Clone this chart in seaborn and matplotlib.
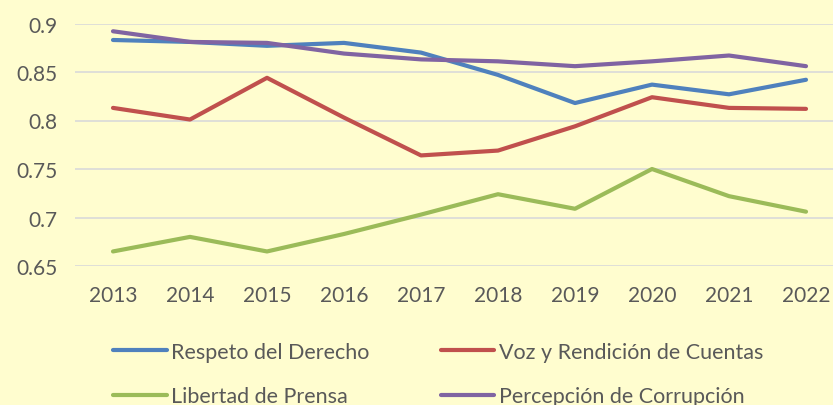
import matplotlib
matplotlib.use("Agg")
import matplotlib.pyplot as plt
import seaborn as sns
import pandas as pd
from matplotlib.lines import Line2D

years = ["2013", "2014", "2015", "2016", "2017", "2018", "2019", "2020", "2021", "2022"]
respeto = [0.883, 0.881, 0.877, 0.880, 0.870, 0.847, 0.818, 0.837, 0.827, 0.842]
voz = [0.813, 0.801, 0.844, 0.803, 0.764, 0.769, 0.794, 0.824, 0.813, 0.812]
libertad = [0.665, 0.680, 0.665, 0.683, 0.703, 0.724, 0.709, 0.750, 0.722, 0.706]
percepcion = [0.892, 0.881, 0.880, 0.869, 0.863, 0.861, 0.856, 0.861, 0.867, 0.856]
series_names = ["Respeto del Derecho", "Voz y Rendición de Cuentas",
                "Libertad de Prensa", "Percepción de Corrupción"]
yticks = [0.65, 0.7, 0.75, 0.8, 0.85, 0.9]
ytick_labels = ["0.65", "0.7", "0.75", "0.8", "0.85", "0.9"]

colors = ["#4F81BD", "#C0504D", "#9BBB59", "#8064A2"]
bg = "#FFFDCF"
txt = "#595959"

rows = []
for name, vals in zip(series_names, [respeto, voz, libertad, percepcion]):
    for i, (y, v) in enumerate(zip(years, vals)):
        rows.append({"pos": i, "year": y, "value": v, "series": name})
df = pd.DataFrame(rows)

sns.set_theme(style="white")
plt.rcParams["font.family"] = ["Lato", "DejaVu Sans"]

fig = plt.figure(figsize=(8.33, 4.06), dpi=100, facecolor=bg)
ax = fig.add_axes([74.5 / 833, (406 - 267) / 406, 770 / 833, (267 - 24.5) / 406])
ax.set_facecolor(bg)

sns.lineplot(data=df, x="pos", y="value", hue="series", palette=colors,
             hue_order=series_names, linewidth=3, ax=ax, legend=False,
             solid_capstyle="round")

ax.set_xlim(-0.5, 9.5)
ax.set_ylim(0.65, 0.9)
ax.set_xticks(range(len(years)))
ax.set_xticklabels(years)
ax.set_yticks(yticks)
ax.set_yticklabels(ytick_labels)
ax.tick_params(axis="both", colors=txt, labelsize=15, length=0)
ax.tick_params(axis="x", pad=14)
ax.tick_params(axis="y", pad=12)
ax.grid(axis="y", color="#D9D9D9", linewidth=1.2)
ax.set_axisbelow(True)
for s in ax.spines.values():
    s.set_visible(False)
ax.set_xlabel("")
ax.set_ylabel("")

# row-major order: matplotlib fills legend column-wise
order = [0, 2, 1, 3]
handles = [Line2D([0], [0], color=colors[i], linewidth=3) for i in order]
labels = [series_names[i] for i in order]
fig.legend(handles, labels, loc="center", ncol=2,
           bbox_to_anchor=(438 / 833, (406 - 375) / 406), frameon=False,
           fontsize=15.5, handlelength=2.5, handletextpad=0.2,
           columnspacing=3.3, labelspacing=1.15, labelcolor=txt)

fig.savefig("out.png", dpi=100, facecolor=bg)
